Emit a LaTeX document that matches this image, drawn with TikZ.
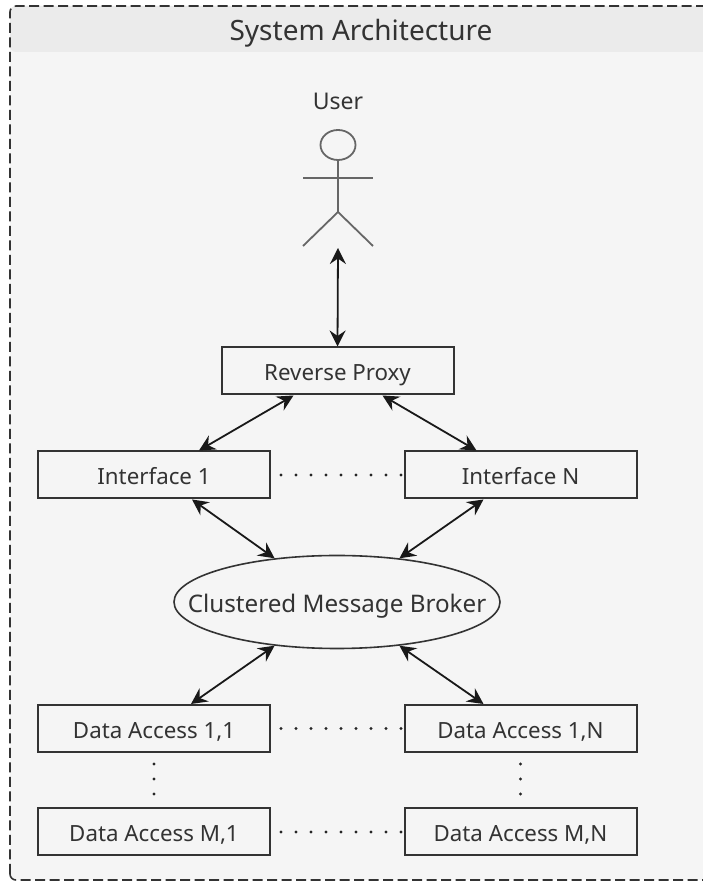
\documentclass[tikz,border=0pt]{standalone}
\usepackage{fontspec}
\setmainfont{Noto Sans}
\usetikzlibrary{arrows.meta,shapes.geometric}
\definecolor{framefill}{HTML}{F5F5F5}
\definecolor{headfill}{HTML}{EBEBEB}
\definecolor{inkgray}{HTML}{333333}
\definecolor{actorgray}{HTML}{666666}
\tikzset{
  box/.style={draw=inkgray, line width=2pt, minimum width=232pt, minimum height=47pt, inner sep=0pt, text=inkgray, text height=21pt, text depth=1pt, font=\fontsize{22.3}{26}\selectfont},
  both/.style={{Stealth[length=16pt,width=16pt,inset=5.5pt]}-{Stealth[length=16pt,width=16pt,inset=5.5pt]}, line width=1.8pt, black!90},
  dots/.style={line width=3.4pt, line cap=round, black!85, dash pattern=on 0pt off 15pt},
  actorline/.style={actorgray, line width=1.8pt}
}
\begin{document}
\begin{tikzpicture}[x=1pt,y=1pt]
\useasboundingbox (0,0) rectangle (703,883);
\clip (0,0) rectangle (703,883);
\fill[framefill, rounded corners=6pt] (10,3) rectangle (712,877);
\fill[headfill, rounded corners=6pt] (10,831) -- (10,877) -- (712,877) -- (712,831) -- cycle;
\draw[inkgray, line width=1.6pt, rounded corners=6pt, dash pattern=on 10pt off 4.5pt] (10,3) rectangle (712,877);
\node[text=inkgray, font=\fontsize{28}{32}\selectfont] (title) at (361,850) {System Architecture};

\node[text=inkgray, font=\fontsize{23}{27}\selectfont] (userlabel) at (338,782) {User};
\draw[actorline] (338,738) ellipse[x radius=17.5, y radius=15];
\draw[actorline] (338,723) -- (338,671);
\draw[actorline] (303,705) -- (373,705);
\draw[actorline] (303,637) -- (338,671) -- (373,637);
\coordinate (userfoot) at (338,635);

\node[box] (proxy) at (337.5,512) {Reverse Proxy};
\node[box] (iface1) at (154,408) {Interface 1};
\node[box] (ifaceN) at (520.5,408) {Interface N};
\node[draw=inkgray, line width=1.6pt, ellipse, minimum width=326pt, minimum height=93pt, inner xsep=-50pt, inner ysep=0pt, text=inkgray, text height=23pt, text depth=1pt, font=\fontsize{24.2}{28}\selectfont] (broker) at (337,281) {Clustered Message Broker};
\node[box] (da11) at (154,154.5) {Data Access 1,1};
\node[box] (da1N) at (520.5,154.5) {Data Access 1,N};
\node[box] (daM1) at (154,51) {Data Access M,1};
\node[box] (daMN) at (520.5,51) {Data Access M,N};

\draw[both] (userfoot) -- (proxy.north);
\draw[both] ([xshift=-44pt]proxy.south) -- ([xshift=45pt]iface1.north);
\draw[both] ([xshift=45pt]proxy.south) -- ([xshift=-44pt]ifaceN.north);
\draw[both] ([xshift=38pt]iface1.south) -- (broker.145);
\draw[both] ([xshift=-37pt]ifaceN.south) -- (broker.35);
\draw[both] (broker.215) -- ([xshift=37pt]da11.north);
\draw[both] (broker.325) -- ([xshift=-37pt]da1N.north);

\draw[dots] ([xshift=10pt]iface1.east) -- ([xshift=1pt]ifaceN.west);
\draw[dots] ([xshift=10pt]da11.east) -- ([xshift=1pt]da1N.west);
\draw[dots] ([xshift=10pt]daM1.east) -- ([xshift=1pt]daMN.west);
\draw[dots] ([yshift=-11pt]da11.south) -- ([yshift=-1pt]daM1.north);
\draw[dots] ([yshift=-11pt]da1N.south) -- ([yshift=-1pt]daMN.north);
\end{tikzpicture}
\end{document}
